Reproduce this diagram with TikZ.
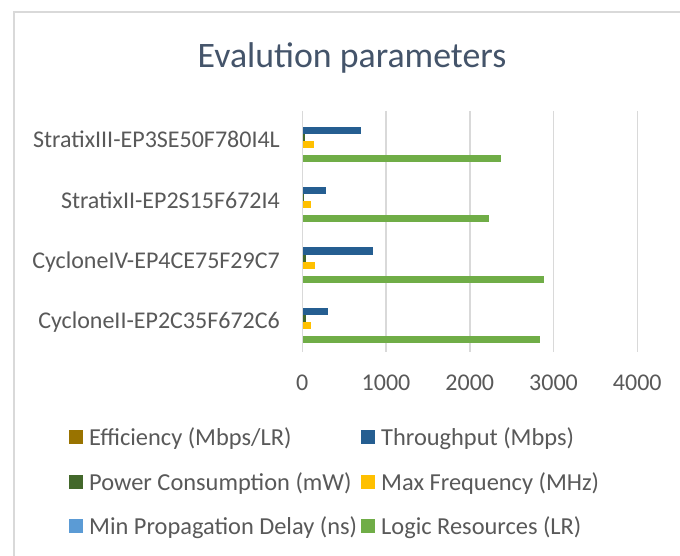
\documentclass[tikz,border=0pt]{standalone}
\usepackage{fontspec}
\setmainfont{Carlito}
\definecolor{effc}{HTML}{997300}
\definecolor{thrc}{HTML}{255E91}
\definecolor{powc}{HTML}{43682B}
\definecolor{frqc}{HTML}{FFC000}
\definecolor{delc}{HTML}{5B9BD5}
\definecolor{logc}{HTML}{70AD47}
\definecolor{gridc}{HTML}{D9D9D9}
\definecolor{labc}{HTML}{595959}
\definecolor{titlec}{HTML}{44546A}
\tikzset{
  lab/.style={font=\fontsize{24}{28}\selectfont, text=labc, inner sep=0pt},
  leglab/.style={font=\fontsize{24.4}{28}\selectfont, text=labc, inner sep=0pt},
  ttl/.style={font=\fontsize{35.8}{42}\selectfont, text=titlec, inner sep=0pt},
  grid line/.style={draw=gridc, line width=1.6pt},
  legsq/.style={minimum size=14pt, inner sep=0pt, draw=none, anchor=center},
}
\newcommand\legitem[5]{%
  \node[legsq, fill=#3] (sq#4) at (#1+7,#2) {};
  \node[leglab, anchor=base west] (lt#4) at (#1+20,#2+8) {#5};
}
\begin{document}
\begin{tikzpicture}[x=1pt,y=-1pt]
\useasboundingbox (0,0) rectangle (680,556);
\fill[white] (0,0) rectangle (680,556);
% chart frame
\draw[gridc, line width=2pt] (13.5,560) -- (13.5,12) -- (684,12);
% title
\node[ttl, anchor=base] (title) at (352,68) {Evalution parameters};
% gridlines and tick labels
\foreach \i/\v in {0/0,1/1000,2/2000,3/3000,4/4000} {
  \draw[grid line] (302.3+83.75*\i,111) -- (302.3+83.75*\i,352);
  \node[lab, anchor=base] (tick\i) at (302.3+83.75*\i,390) {\v};
}
% categories and bars
\foreach \g/\nm/\t/\p/\f/\l in {
  0/StratixIII-EP3SE50F780I4L/705/30/143/2378,
  1/StratixII-EP2S15F672I4/280/10/104/2234,
  2/CycloneIV-EP4CE75F29C7/841/40/152/2880,
  3/CycloneII-EP2C35F672C6/303/48/100/2836} {
  \pgfmathsetmacro\yy{119.7+60.4*\g}
  \node[lab, anchor=base east] (cat\g) at (280,\yy+28) {\nm};
  \fill[thrc] (303,\yy+7)  rectangle ({302.3+\t*0.08375},\yy+14);
  \fill[powc] (303,\yy+14) rectangle ({302.3+\p*0.08375},\yy+21);
  \fill[frqc] (303,\yy+21) rectangle ({302.3+\f*0.08375},\yy+28);
  \fill[logc] (303,\yy+35) rectangle ({302.3+\l*0.08375},\yy+42);
}
% legend
\legitem{69}{437}{effc}{a}{Efficiency (Mbps/LR)}
\legitem{361}{437}{thrc}{b}{Throughput (Mbps)}
\legitem{69}{482}{powc}{c}{Power Consumption (mW)}
\legitem{361}{482}{frqc}{d}{Max Frequency (MHz)}
\legitem{69}{526}{delc}{e}{Min Propagation Delay (ns)}
\legitem{361}{526}{logc}{f}{Logic Resources (LR)}
\end{tikzpicture}
\end{document}
